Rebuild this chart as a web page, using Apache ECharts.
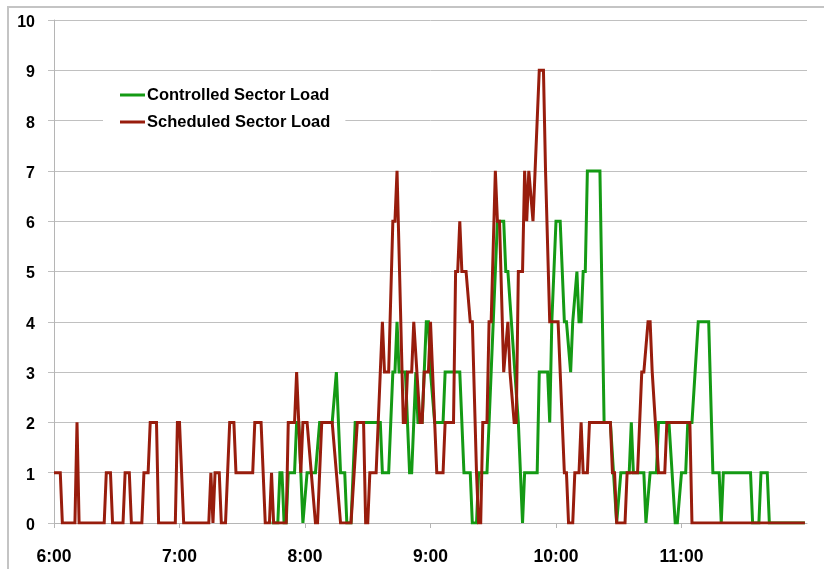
<!DOCTYPE html>
<html>
<head>
<meta charset="utf-8">
<script src="https://cdn.jsdelivr.net/npm/echarts@6/dist/echarts.min.js"></script>
<style>
html,body{margin:0;padding:0;background:#fff;}
#chart{width:824px;height:569px;}
</style>
</head>
<body>
<div id="chart"></div>
<script>
// Minutes after 6:00 and loads at each vertex of the step-like polylines
const hourLabels = ['6:00','7:00','8:00','9:00','10:00','11:00'];
const loadTicks = [0,1,2,3,4,5,6,7,8,9,10];

const controlledMin  = [104,107,108,109,110,111,112,115,116,117,119,121,125,127,133,135,137,139,140,142,144,156,157,160,162,163,164,165,168,170,171,173,174,176,178,179,180,182,186,187,194,196,199,200,202,203,207,209,212,215,216,217,222,224,225,231,232,236,237,238,240,242,244,245,247,248,250,251,252,253,254,255,261,263,266,269,271,275,276,277,282,283,285,288,289,294,297,298,300,302,303,305,308,313,315,318,319,320,333,334,337,338,341,342,359];
const controlledLoad = [0,  0,  1,  1,  0,  0,  1,  1,  2,  2,  0,  1,  1,  2,  2,  3,  1,  1,  0,  0,  2,  2,  1,  1,  3,  3,  4,  3,  3,  1,  1,  3,  2,  2,  4,  4,  3,  2,  2,  3,  3,  1,  1,  0,  0,  1,  1,  3,  6,  6,  5,  5,  2,  0,  1,  1,  3,  3,  2,  4,  6,  6,  4,  4,  3,  4,  5,  4,  4,  5,  5,  7,  7,  2,  2,  0,  1,  1,  2,  1,  1,  0,  1,  1,  2,  2,  0,  0,  1,  1,  2,  2,  4,  4,  1,  1,  0,  1,  1,  0,  0,  1,  1,  0,  0];

const scheduledMin  = [0,3,4,10,11,12,24,25,27,28,33,34,36,37,42,43,45,46,49,50,58,59,60,62,74,75,76,77,79,80,82,84,86,87,95,96,99,101,103,104,105,111,112,115,116,117,118,119,121,123,125,126,127,128,133,135,137,142,145,148,149,150,151,154,155,156,157,158,160,162,163,164,167,168,169,171,172,175,176,177,179,180,182,183,186,187,191,192,193,194,195,197,199,200,202,203,204,205,207,208,209,211,212,213,215,217,218,220,221,222,224,225,226,227,229,230,232,234,235,237,241,244,245,246,248,249,251,252,253,255,256,266,267,268,269,273,274,279,281,282,284,285,286,289,292,293,304,305,359];
const scheduledLoad = [1,1,0,0, 2, 0, 0, 1, 1, 0, 0, 1, 1, 0, 0, 1, 1, 2, 2, 0, 0, 2, 2, 0, 0, 1, 0, 1, 1, 0, 0, 2, 2, 1, 1, 2, 2, 0,  0,  1,  0,  0,  2,  2,  3,  2,  1,  2,  2,  1,  0,  0,  1,  2,  2,  1,  0,  0,  2,  2,  0,  0,  1,  1,  2,  3,  4,  3,  3,  6,  6,  7,  2,  2,  3,  3,  4,  2,  2,  3,  3,  4,  2,  1,  1,  2,  2,  5,  5,  6,  5,  5,  4,  4,  1,  0,  0,  2,  2,  4,  4,  7,  6,  6,  3,  4,  3,  2,  2,  5,  5,  7,  6,  7,  6,  7,  9,  9,  7,  4,  4,  1,  1,  0,  0,  1,  1,  2,  1,  1,  2,  2,  1,  1,  0,  0,  1,  1,  3,  3,  4,  4,  3,  1,  1,  2,  2,  0,  0];

const seriesNames = ['Controlled Sector Load','Scheduled Sector Load'];

function zip(xs, ys){ return xs.map((x,i)=>[x, ys[i]]); }

const chart = echarts.init(document.getElementById('chart'), null, {renderer:'canvas'});
const font = 'Liberation Sans, Arial, sans-serif';
chart.setOption({
  animation: false,
  backgroundColor: '#fff',
  graphic: [{
    type: 'rect', silent: true, z: -10,
    shape: {x: 8, y: 7, width: 840, height: 600},
    style: {fill: 'none', stroke: '#c4c4c4', lineWidth: 2}
  }],
  grid: {left: 54, right: 17, top: 20, bottom: 46, containLabel: false},
  legend: {
    orient: 'vertical', left: 103, top: 79,
    padding: [6, 15, 6, 17],
    backgroundColor: '#fff',
    itemGap: 7, itemWidth: 25, itemHeight: 3,
    icon: 'rect',
    data: seriesNames,
    textStyle: {fontFamily: font, fontWeight: 'bold', fontSize: 16.5, color: '#000', lineHeight: 18, padding: [2,0,0,-3]}
  },
  xAxis: {
    type: 'value', min: 0, max: 360, interval: 60,
    axisLine: {show: true, lineStyle: {color: '#b5b5b5', width: 1}},
    axisTick: {show: true, length: 5, lineStyle: {color: '#b5b5b5'}},
    splitLine: {show: false},
    axisLabel: {
      margin: 25, color: '#000', fontFamily: font, fontWeight: 'bold', fontSize: 17.5,
      showMaxLabel: false,
      formatter: v => hourLabels[v/60] || ''
    }
  },
  yAxis: {
    type: 'value', min: loadTicks[0], max: loadTicks[loadTicks.length-1], interval: 1,
    axisLine: {show: true, lineStyle: {color: '#b5b5b5', width: 1}},
    axisTick: {show: true, length: 6, lineStyle: {color: '#c0c0c0'}},
    splitLine: {show: true, lineStyle: {color: '#c0c0c0', width: 1}},
    axisLabel: {
      margin: 19,
      formatter: v => '{t|' + v + '}',
      rich: {t: {color: '#000', fontFamily: font, fontWeight: 'bold', fontSize: 16, padding: [5,0,0,0]}}
    }
  },
  series: [
    {name: seriesNames[0], type: 'line', data: zip(controlledMin, controlledLoad),
     showSymbol: false, symbol: 'none', color: '#149a14',
     lineStyle: {width: 3, color: '#149a14', join: 'miter'}, z: 2},
    {name: seriesNames[1], type: 'line', data: zip(scheduledMin, scheduledLoad),
     showSymbol: false, symbol: 'none', color: '#981d0d',
     lineStyle: {width: 3, color: '#981d0d', join: 'miter'}, z: 3}
  ]
});
</script>
</body>
</html>
